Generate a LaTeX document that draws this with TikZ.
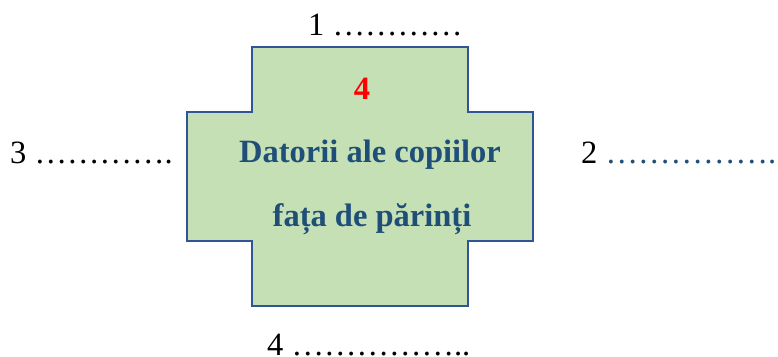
\documentclass[tikz,border=0pt]{standalone}
\usepackage{fontspec}
\setmainfont{Liberation Serif}
\usetikzlibrary{positioning}
\definecolor{crossfill}{HTML}{C5E0B4}
\definecolor{crossline}{HTML}{2F5597}
\definecolor{darkblue}{HTML}{1F4E79}
\tikzset{
    crossbox/.style={
           fill=crossfill,
           draw=crossline,
           line width=2.8pt,
           line join=miter},
    % Define text styles
    blanks/.style={
           anchor=base west,
           inner sep=0pt,
           font=\fontsize{32.5}{39}\selectfont},
    title/.style={
           anchor=base,
           inner sep=0pt,
           text=darkblue,
           font=\fontsize{32.5}{39}\selectfont\bfseries}
}

\begin{document}
\begin{tikzpicture}[x=1pt,y=-1pt]
	\useasboundingbox (0,0) rectangle (778,356);
	\draw[crossbox] (252,47) -- (468,47) -- (468,112) -- (533,112) -- (533,241)
		-- (468,241) -- (468,306) -- (252,306) -- (252,241) -- (187,241)
		-- (187,112) -- (252,112) -- cycle;

	\node[title,text=red] (num) at (362,99) {4};
	\node[title] (line1) at (370,162) {Datorii ale copiilor};
	\node[title] (line2) at (372,226) {fața de părinți};

	\node[blanks] (one) at (308,35) {1 …………};
	\node[blanks] (three) at (10,163) {3 ………….};
	\node[blanks] (two) at (581,163) {2 \textcolor{darkblue}{……………..}};
	\node[blanks] (four) at (267,355) {4 ……………..};
\end{tikzpicture}
\end{document}
